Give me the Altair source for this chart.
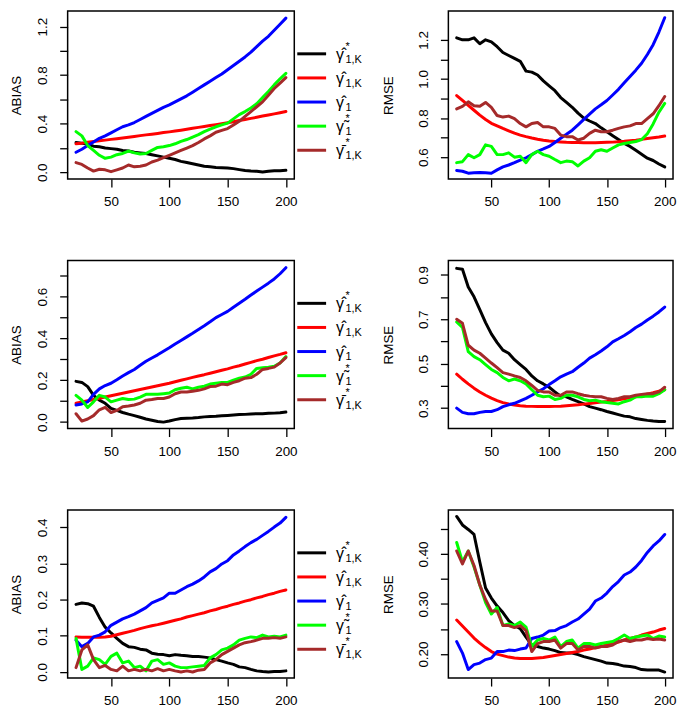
import altair as alt
import pandas as pd

XS = [20, 25, 30, 35, 40, 45, 50, 55, 60, 65, 70, 75, 80, 85, 90, 95, 100, 105, 110, 115,
      120, 125, 130, 135, 140, 145, 150, 155, 160, 165, 170, 175, 180, 185, 190, 195, 200]

SERIES = ["gamma_hat_star_1K", "gamma_hat_1K", "gamma_hat_1", "gamma_tilde_star_1", "gamma_bar_star_1K"]
COLORS = ["#000000", "#FF0000", "#0000FF", "#00FF00", "#A52A2A"]
LEG_SYMBOL = ["\u03b3\u0302", "\u03b3\u0302", "\u03b3\u0302", "\u03b3\u0303", "\u03b3\u0304"]
LEG_STAR = ["*", "", "", "*", "*"]
LEG_SUB = ["1,K", "1,K", "1", "1", "1,K"]

# Row 1, ABIAS
P1_BLACK = [0.245, 0.24, 0.23, 0.215, 0.21, 0.20, 0.195, 0.19, 0.18, 0.175, 0.165, 0.16, 0.155, 0.145, 0.135, 0.125, 0.115, 0.105, 0.09, 0.08,
            0.07, 0.06, 0.05, 0.045, 0.04, 0.038, 0.035, 0.03, 0.022, 0.015, 0.01, 0.008, 0.002, 0.008, 0.012, 0.013, 0.016]
P1_RED = [0.235, 0.24, 0.247, 0.253, 0.259, 0.265, 0.271, 0.277, 0.283, 0.289, 0.295, 0.302, 0.308, 0.314, 0.32, 0.327, 0.333, 0.34, 0.347, 0.355,
          0.362, 0.37, 0.377, 0.385, 0.392, 0.40, 0.408, 0.417, 0.426, 0.435, 0.444, 0.453, 0.463, 0.472, 0.481, 0.491, 0.50]
P1_BLUE = [0.165, 0.19, 0.22, 0.25, 0.28, 0.30, 0.325, 0.35, 0.375, 0.39, 0.41, 0.435, 0.46, 0.485, 0.51, 0.535, 0.555, 0.58, 0.605, 0.63,
           0.66, 0.69, 0.72, 0.75, 0.78, 0.81, 0.845, 0.88, 0.915, 0.95, 0.99, 1.035, 1.08, 1.12, 1.17, 1.22, 1.27]
P1_GREEN = [0.335, 0.30, 0.22, 0.18, 0.14, 0.115, 0.125, 0.145, 0.155, 0.175, 0.16, 0.15, 0.155, 0.18, 0.205, 0.21, 0.22, 0.235, 0.255, 0.27,
            0.29, 0.31, 0.335, 0.355, 0.375, 0.39, 0.405, 0.44, 0.475, 0.5, 0.53, 0.565, 0.615, 0.665, 0.72, 0.77, 0.815]
P1_BROWN = [0.08, 0.065, 0.035, 0.01, 0.025, 0.02, 0.005, 0.02, 0.035, 0.06, 0.045, 0.05, 0.06, 0.085, 0.10, 0.12, 0.14, 0.16, 0.18, 0.2,
            0.22, 0.245, 0.275, 0.3, 0.33, 0.345, 0.36, 0.39, 0.42, 0.46, 0.50, 0.54, 0.58, 0.635, 0.69, 0.735, 0.78]

# Row 1, RMSE
P2_BLACK = [1.21, 1.2, 1.2, 1.21, 1.18, 1.2, 1.19, 1.165, 1.135, 1.12, 1.105, 1.09, 1.04, 1.035, 1.02, 0.99, 0.965, 0.94, 0.905, 0.88,
            0.855, 0.825, 0.8, 0.785, 0.772, 0.75, 0.73, 0.71, 0.69, 0.67, 0.655, 0.635, 0.615, 0.595, 0.583, 0.565, 0.55]
P2_RED = [0.915, 0.89, 0.865, 0.84, 0.815, 0.793, 0.773, 0.76, 0.747, 0.735, 0.723, 0.713, 0.705, 0.698, 0.692, 0.687, 0.683, 0.68, 0.678, 0.676,
          0.675, 0.675, 0.674, 0.674, 0.674, 0.675, 0.676, 0.677, 0.679, 0.681, 0.684, 0.687, 0.691, 0.695, 0.699, 0.703, 0.708]
P2_BLUE = [0.532, 0.528, 0.518, 0.52, 0.522, 0.52, 0.518, 0.535, 0.55, 0.56, 0.572, 0.585, 0.597, 0.613, 0.63, 0.642, 0.655, 0.675, 0.697, 0.717,
           0.738, 0.765, 0.793, 0.82, 0.847, 0.868, 0.89, 0.918, 0.947, 0.98, 1.013, 1.045, 1.08, 1.125, 1.175, 1.24, 1.313]
P2_GREEN = [0.572, 0.577, 0.613, 0.597, 0.613, 0.663, 0.655, 0.613, 0.613, 0.622, 0.6, 0.605, 0.572, 0.613, 0.63, 0.613, 0.605, 0.588, 0.572, 0.58,
            0.577, 0.555, 0.58, 0.597, 0.63, 0.638, 0.63, 0.647, 0.663, 0.67, 0.675, 0.68, 0.69, 0.72, 0.77, 0.83, 0.875]
P2_BROWN = [0.847, 0.86, 0.883, 0.863, 0.86, 0.88, 0.855, 0.813, 0.805, 0.81, 0.797, 0.772, 0.755, 0.772, 0.777, 0.755, 0.755, 0.747, 0.713, 0.705,
            0.705, 0.688, 0.697, 0.722, 0.738, 0.73, 0.73, 0.738, 0.747, 0.755, 0.76, 0.772, 0.772, 0.797, 0.822, 0.863, 0.91]

# Row 2, ABIAS
P3_BLACK = [0.195, 0.19, 0.17, 0.128, 0.105, 0.09, 0.066, 0.056, 0.046, 0.038, 0.031, 0.023, 0.015, 0.009, 0.003, 0.0, 0.005, 0.012, 0.017, 0.019,
            0.02, 0.022, 0.025, 0.027, 0.028, 0.03, 0.032, 0.034, 0.036, 0.037, 0.039, 0.04, 0.04, 0.042, 0.043, 0.045, 0.048]
P3_RED = [0.09, 0.096, 0.102, 0.108, 0.114, 0.12, 0.126, 0.132, 0.138, 0.144, 0.15, 0.156, 0.162, 0.168, 0.174, 0.18, 0.186, 0.193, 0.2, 0.207,
          0.214, 0.221, 0.227, 0.234, 0.241, 0.248, 0.255, 0.263, 0.27, 0.278, 0.286, 0.294, 0.301, 0.309, 0.317, 0.324, 0.332]
P3_BLUE = [0.082, 0.087, 0.097, 0.133, 0.159, 0.175, 0.186, 0.203, 0.221, 0.237, 0.252, 0.272, 0.291, 0.307, 0.322, 0.339, 0.356, 0.374, 0.391, 0.408,
           0.425, 0.443, 0.461, 0.48, 0.5, 0.515, 0.53, 0.55, 0.569, 0.588, 0.608, 0.627, 0.646, 0.665, 0.685, 0.71, 0.739]
P3_GREEN = [0.128, 0.105, 0.07, 0.097, 0.128, 0.12, 0.097, 0.105, 0.113, 0.108, 0.11, 0.12, 0.133, 0.133, 0.133, 0.136, 0.139, 0.155, 0.162, 0.167,
            0.159, 0.167, 0.172, 0.182, 0.186, 0.19, 0.19, 0.201, 0.21, 0.216, 0.229, 0.257, 0.26, 0.263, 0.267, 0.283, 0.314]
P3_BROWN = [0.04, 0.005, 0.015, 0.031, 0.059, 0.07, 0.046, 0.056, 0.074, 0.077, 0.082, 0.09, 0.105, 0.108, 0.113, 0.113, 0.12, 0.136, 0.144, 0.144,
            0.148, 0.152, 0.159, 0.17, 0.172, 0.182, 0.179, 0.19, 0.198, 0.21, 0.213, 0.229, 0.252, 0.257, 0.263, 0.283, 0.309]

# Row 2, RMSE
P4_BLACK = [0.929, 0.925, 0.845, 0.801, 0.743, 0.685, 0.634, 0.595, 0.561, 0.547, 0.518, 0.496, 0.474, 0.445, 0.423, 0.409, 0.394, 0.373, 0.354, 0.351,
            0.339, 0.329, 0.319, 0.307, 0.3, 0.293, 0.285, 0.278, 0.271, 0.264, 0.261, 0.253, 0.249, 0.245, 0.242, 0.24, 0.24]
P4_RED = [0.453, 0.43, 0.409, 0.39, 0.373, 0.358, 0.345, 0.334, 0.325, 0.319, 0.314, 0.311, 0.309, 0.308, 0.307, 0.307, 0.307, 0.308, 0.309, 0.311,
          0.313, 0.315, 0.318, 0.321, 0.324, 0.327, 0.33, 0.334, 0.338, 0.342, 0.347, 0.351, 0.357, 0.363, 0.369, 0.376, 0.383]
P4_BLUE = [0.3, 0.281, 0.275, 0.275, 0.281, 0.285, 0.285, 0.293, 0.307, 0.315, 0.322, 0.333, 0.344, 0.358, 0.373, 0.387, 0.406, 0.423, 0.441, 0.453,
           0.464, 0.484, 0.503, 0.525, 0.54, 0.557, 0.576, 0.598, 0.612, 0.627, 0.644, 0.663, 0.678, 0.697, 0.714, 0.733, 0.755]
P4_GREEN = [0.688, 0.663, 0.554, 0.532, 0.518, 0.496, 0.474, 0.46, 0.438, 0.423, 0.431, 0.423, 0.409, 0.383, 0.358, 0.351, 0.354, 0.339, 0.344, 0.358,
            0.358, 0.351, 0.339, 0.333, 0.336, 0.329, 0.325, 0.322, 0.319, 0.329, 0.336, 0.351, 0.351, 0.354, 0.354, 0.365, 0.383]
P4_BROWN = [0.7, 0.682, 0.583, 0.561, 0.547, 0.525, 0.503, 0.482, 0.46, 0.453, 0.445, 0.438, 0.423, 0.402, 0.38, 0.373, 0.373, 0.358, 0.358, 0.373,
            0.373, 0.365, 0.358, 0.354, 0.351, 0.351, 0.344, 0.339, 0.344, 0.351, 0.351, 0.358, 0.362, 0.365, 0.365, 0.373, 0.394]

# Row 3, ABIAS
P5_BLACK = [0.187, 0.191, 0.189, 0.182, 0.151, 0.124, 0.108, 0.093, 0.079, 0.07, 0.068, 0.063, 0.061, 0.052, 0.049, 0.048, 0.045, 0.048, 0.046, 0.045,
            0.043, 0.043, 0.041, 0.039, 0.034, 0.03, 0.025, 0.021, 0.014, 0.012, 0.007, 0.003, 0.001, 0.0, 0.001, 0.001, 0.003]
P5_RED = [0.097, 0.096, 0.096, 0.096, 0.096, 0.097, 0.099, 0.103, 0.107, 0.111, 0.115, 0.12, 0.124, 0.128, 0.131, 0.135, 0.139, 0.143, 0.147, 0.152,
          0.156, 0.16, 0.164, 0.169, 0.173, 0.178, 0.182, 0.187, 0.191, 0.196, 0.2, 0.205, 0.209, 0.214, 0.218, 0.223, 0.227]
P5_BLUE = [0.088, 0.07, 0.079, 0.097, 0.102, 0.111, 0.129, 0.138, 0.147, 0.153, 0.16, 0.169, 0.178, 0.191, 0.198, 0.205, 0.218, 0.218, 0.227, 0.236,
           0.243, 0.252, 0.263, 0.277, 0.286, 0.299, 0.308, 0.324, 0.335, 0.347, 0.358, 0.367, 0.378, 0.389, 0.401, 0.412, 0.428]
P5_GREEN = [0.093, 0.007, 0.016, 0.039, 0.034, 0.021, 0.043, 0.052, 0.025, 0.03, 0.012, 0.016, 0.003, 0.03, 0.034, 0.021, 0.025, 0.016, 0.012, 0.012,
            0.014, 0.016, 0.018, 0.039, 0.048, 0.061, 0.066, 0.075, 0.088, 0.093, 0.097, 0.095, 0.102, 0.097, 0.099, 0.097, 0.102]
P5_BROWN = [0.012, 0.061, 0.075, 0.034, 0.012, 0.018, 0.007, 0.003, 0.016, 0.003, 0.007, 0.003, 0.007, 0.003, 0.009, 0.003, 0.007, 0.003, 0.0, 0.003,
            0.0, 0.005, 0.007, 0.025, 0.034, 0.048, 0.057, 0.066, 0.075, 0.081, 0.084, 0.088, 0.093, 0.093, 0.095, 0.093, 0.097]

# Row 3, RMSE
P6_BLACK = [0.475, 0.458, 0.449, 0.439, 0.384, 0.332, 0.312, 0.296, 0.283, 0.267, 0.257, 0.251, 0.234, 0.218, 0.215, 0.212, 0.21, 0.207, 0.203, 0.202,
            0.202, 0.199, 0.195, 0.192, 0.189, 0.186, 0.182, 0.181, 0.179, 0.176, 0.175, 0.173, 0.169, 0.168, 0.168, 0.168, 0.164]
P6_RED = [0.268, 0.256, 0.244, 0.232, 0.222, 0.213, 0.205, 0.2, 0.197, 0.194, 0.192, 0.191, 0.191, 0.191, 0.192, 0.193, 0.195, 0.197, 0.199, 0.201,
          0.203, 0.205, 0.208, 0.21, 0.213, 0.215, 0.218, 0.221, 0.224, 0.228, 0.231, 0.234, 0.238, 0.241, 0.244, 0.248, 0.251]
P6_BLUE = [0.225, 0.202, 0.169, 0.179, 0.182, 0.189, 0.192, 0.205, 0.205, 0.208, 0.207, 0.21, 0.212, 0.231, 0.234, 0.238, 0.246, 0.247, 0.253, 0.257,
           0.264, 0.27, 0.28, 0.29, 0.306, 0.312, 0.322, 0.335, 0.345, 0.358, 0.364, 0.374, 0.387, 0.403, 0.416, 0.426, 0.439]
P6_GREEN = [0.423, 0.384, 0.406, 0.374, 0.338, 0.303, 0.28, 0.293, 0.257, 0.26, 0.257, 0.264, 0.254, 0.215, 0.228, 0.231, 0.228, 0.234, 0.215, 0.225,
            0.228, 0.212, 0.221, 0.221, 0.218, 0.221, 0.223, 0.225, 0.231, 0.238, 0.231, 0.234, 0.236, 0.238, 0.231, 0.236, 0.234]
P6_BROWN = [0.406, 0.38, 0.406, 0.377, 0.338, 0.309, 0.286, 0.286, 0.257, 0.257, 0.253, 0.257, 0.247, 0.205, 0.221, 0.225, 0.225, 0.228, 0.212, 0.221,
            0.221, 0.208, 0.215, 0.215, 0.212, 0.215, 0.215, 0.218, 0.225, 0.228, 0.225, 0.228, 0.228, 0.231, 0.229, 0.23, 0.228]

FONT = "Liberation Sans"
LEFT_W, RIGHT_W, LEG_W, H = 228, 226, 155, 169
COLOR_SCALE = alt.Scale(domain=SERIES, range=COLORS)


def panel(lists, ydomain, yticks, ylabeled, fmt, title, width, title_x):
    for s in lists:
        assert len(s) == len(XS)
    rows = []
    for name, vals in zip(SERIES, lists):
        for x, v in zip(XS, vals):
            rows.append({"x": x, "value": v, "series": name})
    df = pd.DataFrame(rows)
    lab = ", ".join("'" + format(v, fmt) + "'" for v in ylabeled)
    x_enc = alt.X("x:Q", scale=alt.Scale(domain=[12.8, 207.2], nice=False, zero=False),
                  axis=alt.Axis(values=[50, 100, 150, 200], title=None, labelPadding=8,
                                labelFlush=False, labelOverlap=False))
    y_enc = alt.Y("value:Q", scale=alt.Scale(domain=ydomain, nice=False, zero=False),
                  axis=alt.Axis(values=yticks, format=fmt, labelAngle=270, labelAlign="center",
                                labelBaseline="bottom", labelPadding=10, labelOverlap=False,
                                labelFlush=False,
                                labelExpr="indexof([" + lab + "], datum.label) >= 0 ? datum.label : ''",
                                title=title, titleAngle=270, titleAlign="center", titleBaseline="middle",
                                titleX=title_x, titleY=H / 2))
    layers = []
    for name in SERIES:
        layers.append(
            alt.Chart(df).transform_filter(alt.datum.series == name)
            .mark_line(strokeWidth=3, strokeCap="round", strokeJoin="round")
            .encode(x=x_enc, y=y_enc,
                    color=alt.Color("series:N", scale=COLOR_SCALE, legend=None))
        )
    return alt.layer(*layers).properties(
        width=width, height=H,
        view=alt.ViewBackground(stroke="black", strokeWidth=1.5))


def legend():
    df = pd.DataFrame({"i": list(range(len(SERIES))), "series": SERIES, "sym": LEG_SYMBOL,
                       "star": LEG_STAR, "sub": LEG_SUB})
    y_enc = alt.Y("i:Q", scale=alt.Scale(domain=[0, 4], range=[43, 140]), axis=None)
    base = alt.Chart(df)
    rule = base.mark_rule(strokeWidth=3).encode(
        x=alt.value(3), x2=alt.value(32), y=y_enc,
        color=alt.Color("series:N", scale=COLOR_SCALE, legend=None))
    gam = base.mark_text(align="left", baseline="alphabetic", fontSize=16, dy=6, font=FONT,
                         color="black").encode(x=alt.value(42), y=y_enc, text="sym:N")
    star = base.mark_text(align="left", baseline="alphabetic", fontSize=11, dy=-4, font=FONT,
                          color="black").encode(x=alt.value(51.5), y=y_enc, text="star:N")
    sub = base.mark_text(align="left", baseline="alphabetic", fontSize=11, dy=9, font=FONT,
                         color="black").encode(x=alt.value(51.5), y=y_enc, text="sub:N")
    return alt.layer(rule, gam, star, sub).properties(
        width=LEG_W, height=H, view=alt.ViewBackground(strokeOpacity=0))


charts = [
    panel([P1_BLACK, P1_RED, P1_BLUE, P1_GREEN, P1_BROWN], [-0.056, 1.328],
          [0.0, 0.2, 0.4, 0.6, 0.8, 1.0, 1.2], [0.0, 0.4, 0.8, 1.2], ".1f", "ABIAS", LEFT_W, -51.5),
    legend(),
    panel([P2_BLACK, P2_RED, P2_BLUE, P2_GREEN, P2_BROWN], [0.488, 1.347],
          [0.6, 0.7, 0.8, 0.9, 1.0, 1.1, 1.2], [0.6, 0.8, 1.0, 1.2], ".1f", "RMSE", RIGHT_W, -60.5),
    panel([P3_BLACK, P3_RED, P3_BLUE, P3_GREEN, P3_BROWN], [-0.031, 0.773],
          [0.0, 0.1, 0.2, 0.3, 0.4, 0.5, 0.6, 0.7], [0.0, 0.2, 0.4, 0.6], ".1f", "ABIAS", LEFT_W, -51.5),
    legend(),
    panel([P4_BLACK, P4_RED, P4_BLUE, P4_GREEN, P4_BROWN], [0.208, 0.964],
          [0.3, 0.4, 0.5, 0.6, 0.7, 0.8, 0.9], [0.3, 0.5, 0.7, 0.9], ".1f", "RMSE", RIGHT_W, -60.5),
    panel([P5_BLACK, P5_RED, P5_BLUE, P5_GREEN, P5_BROWN], [-0.017, 0.448],
          [0.0, 0.1, 0.2, 0.3, 0.4], [0.0, 0.1, 0.2, 0.3, 0.4], ".1f", "ABIAS", LEFT_W, -51.5),
    legend(),
    panel([P6_BLACK, P6_RED, P6_BLUE, P6_GREEN, P6_BROWN], [0.152, 0.4877],
          [0.20, 0.25, 0.30, 0.35, 0.40, 0.45], [0.20, 0.30, 0.40], ".2f", "RMSE", RIGHT_W, -60.5),
]

chart = alt.concat(*charts, columns=3, spacing={"row": 82, "column": 0}, bounds="flush").resolve_scale(
    x="independent", y="independent"
).properties(padding=0).configure(font=FONT).configure_axis(
    labelFont=FONT, titleFont=FONT, labelFontSize=13.5, titleFontSize=13.5, titleFontWeight="normal",
    labelColor="black", titleColor="black", tickColor="black", tickWidth=1.3, tickSize=8,
    grid=False, domain=False
)

chart.save("out.html", embed_options={"renderer": "svg", "actions": False})
